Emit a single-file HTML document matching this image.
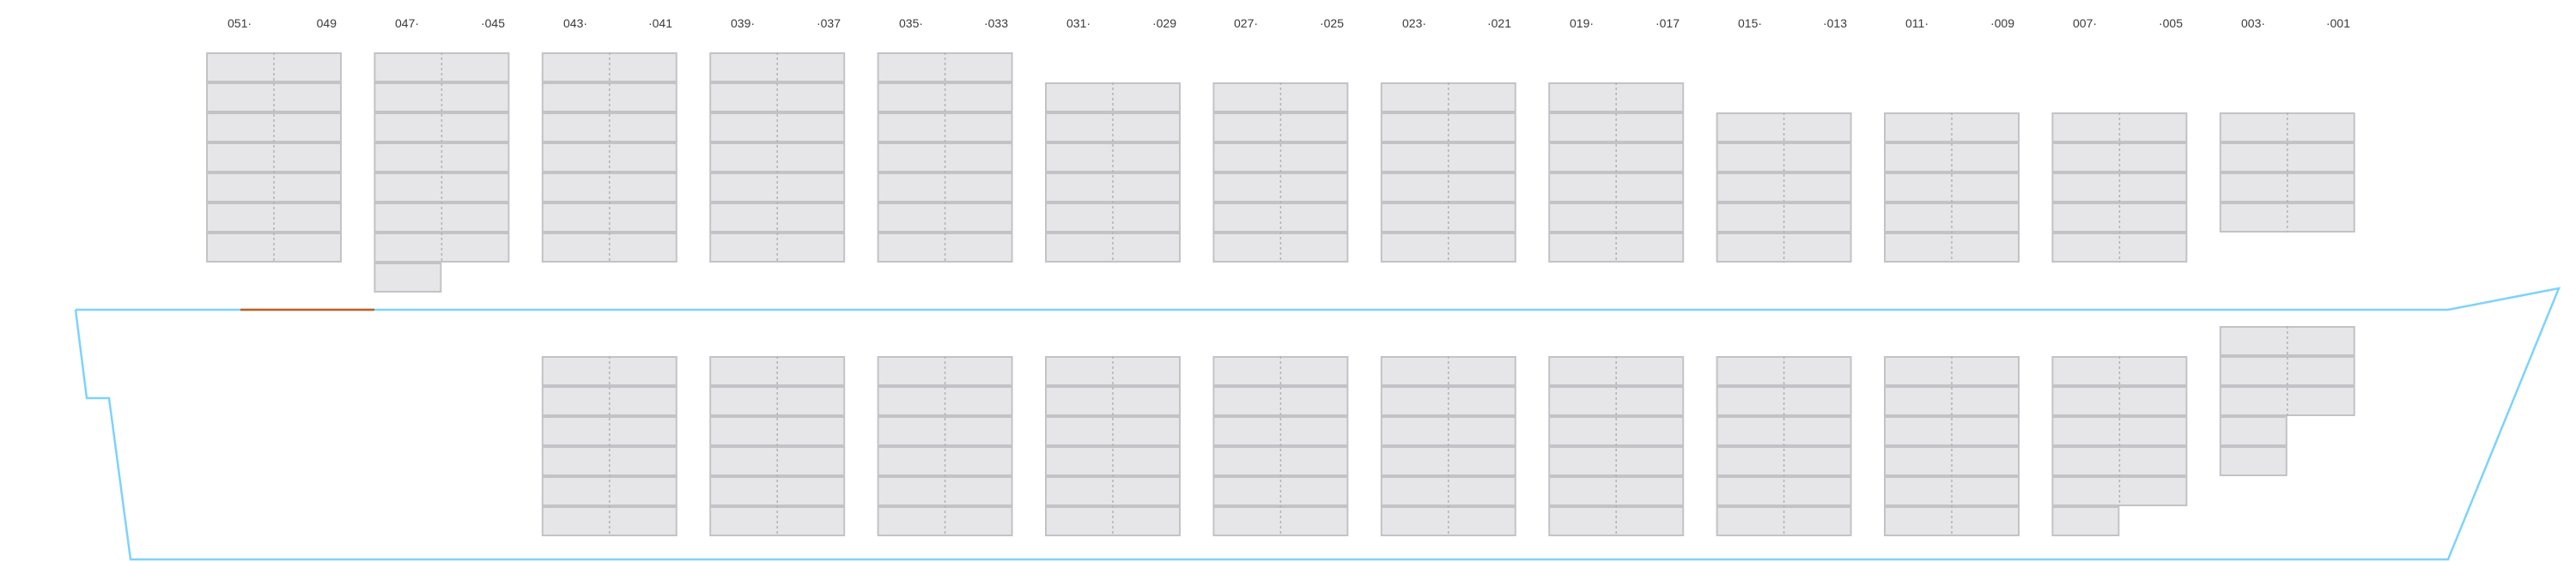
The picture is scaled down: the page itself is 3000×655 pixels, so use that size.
<!DOCTYPE html>
<html><head><meta charset="utf-8"><style>
html,body{margin:0;padding:0;background:#fff;}
svg{display:block;}
text{font-family:"Liberation Sans",sans-serif;font-size:14px;fill:#3a3a3a;}
</style></head><body>
<svg id="s" width="3000" height="655" xmlns="http://www.w3.org/2000/svg">
<g id="labels">
<text x="265" y="32">051·</text><text x="392" y="32" text-anchor="end">049</text>
<text x="460" y="32">047·</text><text x="588" y="32" text-anchor="end">·045</text>
<text x="656" y="32">043·</text><text x="783" y="32" text-anchor="end">·041</text>
<text x="851" y="32">039·</text><text x="979" y="32" text-anchor="end">·037</text>
<text x="1047" y="32">035·</text><text x="1174" y="32" text-anchor="end">·033</text>
<text x="1242" y="32">031·</text><text x="1370" y="32" text-anchor="end">·029</text>
<text x="1437" y="32">027·</text><text x="1565" y="32" text-anchor="end">·025</text>
<text x="1633" y="32">023·</text><text x="1760" y="32" text-anchor="end">·021</text>
<text x="1828" y="32">019·</text><text x="1956" y="32" text-anchor="end">·017</text>
<text x="2024" y="32">015·</text><text x="2151" y="32" text-anchor="end">·013</text>
<text x="2219" y="32">011·</text><text x="2346" y="32" text-anchor="end">·009</text>
<text x="2414" y="32">007·</text><text x="2542" y="32" text-anchor="end">·005</text>
<text x="2610" y="32">003·</text><text x="2737" y="32" text-anchor="end">·001</text>
</g>
<g id="boxes"></g>
<polyline points="88,361 101,464 127,464 152,652 2851,652 2980,336 2851,361 88,361" fill="none" stroke="#7dd3fc" stroke-width="2.5"/>
<line x1="280" y1="361" x2="436" y2="361" stroke="#c2601c" stroke-width="2.5"/>
</svg>
<script>
var g=document.getElementById('boxes'),NS='http://www.w3.org/2000/svg',h='';
function row(x,y,w){h+='<rect x="'+(x+1)+'" y="'+(y+1)+'" width="'+(w-2)+'" height="33" fill="#e6e6e8" stroke="#c3c2c7" stroke-width="2"/>';}
function bay(i,top,full,half){var x=240+195.4*i;for(var r=0;r<full;r++)row(x,top+35*r,158);
 for(var r=0;r<half;r++)row(x,top+35*(full+r),79);
 var y2=top+35*full;h+='<line x1="'+(x+79)+'" y1="'+top+'" x2="'+(x+79)+'" y2="'+y2+'" stroke="#b3b2b7" stroke-width="1.5" stroke-dasharray="3,3"/>';}
for(var i=0;i<13;i++){
 if(i<=4)bay(i,61,7,i==1?1:0);else if(i<=8)bay(i,96,6,0);else if(i<=11)bay(i,131,5,0);else bay(i,131,4,0);
 if(i>=2&&i<=10)bay(i,415,6,0);
}
bay(11,415,5,1);bay(12,380,3,2);
g.innerHTML=h;
</script>
</body></html>
